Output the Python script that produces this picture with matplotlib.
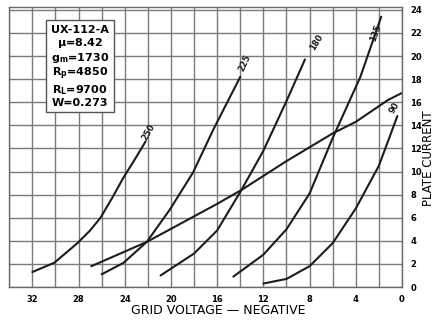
import matplotlib.pyplot as plt
from matplotlib.ticker import MultipleLocator

plt.rcParams['mathtext.default'] = 'bf'

# grid voltage (negative, volts) and plate current (mA), one pair per plate voltage
v250 = [32.0, 30.1, 28.1, 27.0, 26.1, 25.1, 24.1, 23.1, 22.2]
i250 = [1.3, 2.1, 3.8, 4.9, 6.0, 7.7, 9.5, 11.1, 12.6]
v225 = [26.0, 24.1, 22.1, 20.1, 18.1, 16.3, 14.0]
i225 = [1.1, 2.1, 3.9, 6.7, 9.9, 13.7, 18.2]
v180 = [20.9, 18.0, 16.0, 13.9, 12.0, 10.0, 8.8, 8.4]
i180 = [1.0, 2.9, 4.9, 8.4, 11.8, 16.1, 18.8, 19.7]
v135 = [14.6, 12.0, 10.0, 8.0, 6.0, 3.6, 1.8]
i135 = [0.9, 2.8, 5.0, 8.1, 12.9, 18.2, 23.4]
v90 = [12.0, 10.0, 8.0, 6.0, 4.0, 2.0, 0.4]
i90 = [0.3, 0.7, 1.8, 3.8, 6.8, 10.5, 14.8]
# load line
vload = [26.9, 22.1, 16.0, 13.9, 10.0, 6.0, 4.0, 1.2, 0.0]
iload = [1.8, 3.9, 7.2, 8.4, 10.9, 13.3, 14.3, 16.2, 16.8]

curves = [(v250, i250, '250'), (v225, i225, '225'), (v180, i180, '180'),
          (v135, i135, '135'), (v90, i90, '90')]
# label offsets (points) from curve end, and rotation
label_style = {'250': ((2.5, 7), 60), '225': ((3.5, 10), 65), '180': ((8, 12), 58),
               '135': ((-4, -12), 70), '90': ((-2, 6), 58)}

specs = "UX-112-A\n$\\mu$=8.42\ng$_m$=1730\nR$_p$=4850\nR$_L$=9700\nW=0.273"

fig = plt.figure(figsize=(4.4, 3.26), dpi=100)
ax = fig.add_axes([0.0211, 0.1196, 0.8925, 0.8574])

for v, i, name in curves:
    ax.plot(v, i, color='#1c1c1c', lw=1.5, solid_capstyle='round')
    off, rot = label_style[name]
    ax.annotate(name, (v[-1], i[-1]), xytext=off, textcoords='offset points',
                ha='center', va='center', rotation=rot, fontsize=6,
                fontweight='bold', color='#1c1c1c')
ax.plot(vload, iload, color='#1c1c1c', lw=1.5, solid_capstyle='round')

ax.set_xlim(34, 0)
ax.set_ylim(0, 24.2)
ax.xaxis.set_major_locator(MultipleLocator(4))
ax.xaxis.set_minor_locator(MultipleLocator(2))
ax.yaxis.set_major_locator(MultipleLocator(2))
ax.yaxis.tick_right()
ax.grid(which='both', color='#7a7a7a', lw=1.0)
ax.set_axisbelow(True)
ax.tick_params(which='both', length=0, labelsize=6, pad=6)
for lab in ax.get_xticklabels() + ax.get_yticklabels():
    lab.set_fontweight('bold')
for sp in ax.spines.values():
    sp.set_color('#6a6a6a')
    sp.set_linewidth(1)

ax.text(0.18, 0.79, specs, transform=ax.transAxes, ha='center', va='center',
        fontsize=8, fontweight='bold', linespacing=1.1,
        bbox=dict(boxstyle='square,pad=0.4', fc='white', ec='#555555', lw=1))

fig.text(218 / 440, 1 - 310 / 326, 'GRID VOLTAGE — NEGATIVE', ha='center',
         va='center', fontsize=9)
fig.text(428 / 440, 1 - 158 / 326, 'PLATE CURRENT', ha='center', va='center',
         rotation=90, fontsize=8.5)

fig.savefig('out.png', dpi=100)
